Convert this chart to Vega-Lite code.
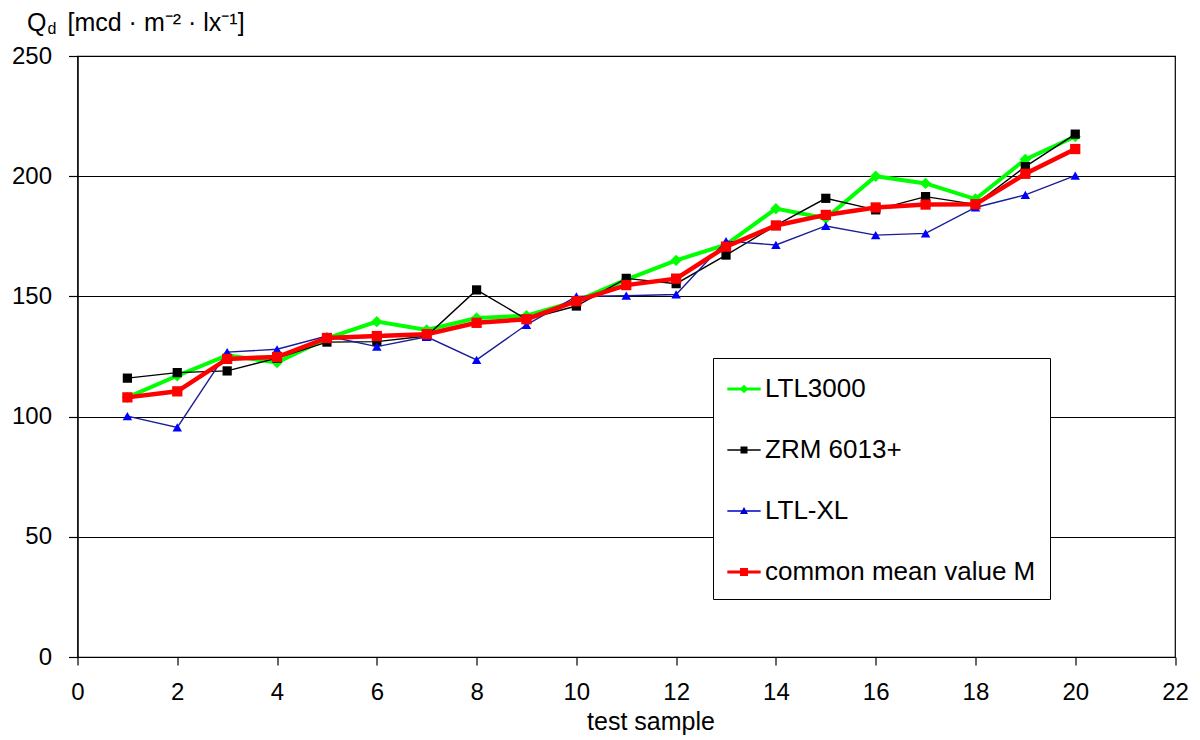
{
  "$schema": "https://vega.github.io/schema/vega-lite/v6.json",
  "width": 1097.5,
  "height": 601,
  "autosize": {"type": "none"},
  "padding": {"left": 77.5, "top": 56, "right": 25, "bottom": 83},
  "background": "white",
  "config": {
    "font": "Liberation Sans",
    "view": {"stroke": "black", "strokeWidth": 1.2},
    "axis": {"labelColor": "black", "titleColor": "black", "domainColor": "black", "tickColor": "black", "titleFontWeight": "normal", "labelFont": "Liberation Sans", "titleFont": "Liberation Sans"}
  },
  "data": {"values": [
    {"sample": 1, "series": "LTL3000", "value": 108},
    {"sample": 2, "series": "LTL3000", "value": 117},
    {"sample": 3, "series": "LTL3000", "value": 125.5},
    {"sample": 4, "series": "LTL3000", "value": 122.5},
    {"sample": 5, "series": "LTL3000", "value": 132.5},
    {"sample": 6, "series": "LTL3000", "value": 139.5},
    {"sample": 7, "series": "LTL3000", "value": 136},
    {"sample": 8, "series": "LTL3000", "value": 141},
    {"sample": 9, "series": "LTL3000", "value": 142},
    {"sample": 10, "series": "LTL3000", "value": 148},
    {"sample": 11, "series": "LTL3000", "value": 157},
    {"sample": 12, "series": "LTL3000", "value": 165},
    {"sample": 13, "series": "LTL3000", "value": 171.5},
    {"sample": 14, "series": "LTL3000", "value": 186.5},
    {"sample": 15, "series": "LTL3000", "value": 182.5},
    {"sample": 16, "series": "LTL3000", "value": 200},
    {"sample": 17, "series": "LTL3000", "value": 197},
    {"sample": 18, "series": "LTL3000", "value": 190.5},
    {"sample": 19, "series": "LTL3000", "value": 207},
    {"sample": 20, "series": "LTL3000", "value": 216.5},
    {"sample": 1, "series": "ZRM 6013+", "value": 116},
    {"sample": 2, "series": "ZRM 6013+", "value": 118.3},
    {"sample": 3, "series": "ZRM 6013+", "value": 119},
    {"sample": 4, "series": "ZRM 6013+", "value": 124.3},
    {"sample": 5, "series": "ZRM 6013+", "value": 131},
    {"sample": 6, "series": "ZRM 6013+", "value": 131.2},
    {"sample": 7, "series": "ZRM 6013+", "value": 133.5},
    {"sample": 8, "series": "ZRM 6013+", "value": 152.7},
    {"sample": 9, "series": "ZRM 6013+", "value": 140.5},
    {"sample": 10, "series": "ZRM 6013+", "value": 146},
    {"sample": 11, "series": "ZRM 6013+", "value": 157.5},
    {"sample": 12, "series": "ZRM 6013+", "value": 155.3},
    {"sample": 13, "series": "ZRM 6013+", "value": 167.2},
    {"sample": 14, "series": "ZRM 6013+", "value": 179.5},
    {"sample": 15, "series": "ZRM 6013+", "value": 190.8},
    {"sample": 16, "series": "ZRM 6013+", "value": 186},
    {"sample": 17, "series": "ZRM 6013+", "value": 191.5},
    {"sample": 18, "series": "ZRM 6013+", "value": 188.3},
    {"sample": 19, "series": "ZRM 6013+", "value": 204},
    {"sample": 20, "series": "ZRM 6013+", "value": 217.5},
    {"sample": 1, "series": "LTL-XL", "value": 100.2},
    {"sample": 2, "series": "LTL-XL", "value": 95.5},
    {"sample": 3, "series": "LTL-XL", "value": 126.8},
    {"sample": 4, "series": "LTL-XL", "value": 128},
    {"sample": 5, "series": "LTL-XL", "value": 133.5},
    {"sample": 6, "series": "LTL-XL", "value": 129.1},
    {"sample": 7, "series": "LTL-XL", "value": 133.2},
    {"sample": 8, "series": "LTL-XL", "value": 123.6},
    {"sample": 9, "series": "LTL-XL", "value": 138.2},
    {"sample": 10, "series": "LTL-XL", "value": 150},
    {"sample": 11, "series": "LTL-XL", "value": 150.3},
    {"sample": 12, "series": "LTL-XL", "value": 150.8},
    {"sample": 13, "series": "LTL-XL", "value": 173},
    {"sample": 14, "series": "LTL-XL", "value": 171.4},
    {"sample": 15, "series": "LTL-XL", "value": 179.3},
    {"sample": 16, "series": "LTL-XL", "value": 175.5},
    {"sample": 17, "series": "LTL-XL", "value": 176.2},
    {"sample": 18, "series": "LTL-XL", "value": 187},
    {"sample": 19, "series": "LTL-XL", "value": 192.2},
    {"sample": 20, "series": "LTL-XL", "value": 200.2},
    {"sample": 1, "series": "common mean value M", "value": 108},
    {"sample": 2, "series": "common mean value M", "value": 110.5},
    {"sample": 3, "series": "common mean value M", "value": 124},
    {"sample": 4, "series": "common mean value M", "value": 124.8},
    {"sample": 5, "series": "common mean value M", "value": 132.7},
    {"sample": 6, "series": "common mean value M", "value": 133.5},
    {"sample": 7, "series": "common mean value M", "value": 134.3},
    {"sample": 8, "series": "common mean value M", "value": 139},
    {"sample": 9, "series": "common mean value M", "value": 140.5},
    {"sample": 10, "series": "common mean value M", "value": 148},
    {"sample": 11, "series": "common mean value M", "value": 154.7},
    {"sample": 12, "series": "common mean value M", "value": 157.4},
    {"sample": 13, "series": "common mean value M", "value": 170.7},
    {"sample": 14, "series": "common mean value M", "value": 179.5},
    {"sample": 15, "series": "common mean value M", "value": 183.9},
    {"sample": 16, "series": "common mean value M", "value": 187},
    {"sample": 17, "series": "common mean value M", "value": 188.2},
    {"sample": 18, "series": "common mean value M", "value": 188.3},
    {"sample": 19, "series": "common mean value M", "value": 201},
    {"sample": 20, "series": "common mean value M", "value": 211.3}
  ]},
  "layer": [
    {
      "encoding": {
        "x": {"field": "sample", "type": "quantitative", "scale": {"domain": [0, 22], "nice": false, "zero": false},
          "axis": {"values": [0, 2, 4, 6, 8, 10, 12, 14, 16, 18, 20, 22], "title": "test sample", "titleX": 573, "titleY": 72, "titleAlign": "center", "titleBaseline": "alphabetic", "titleFontSize": 25, "labelFontSize": 24, "tickSize": 8, "labelPadding": 15, "grid": false, "domainWidth": 1.2, "tickWidth": 1.2, "labelFlush": false, "labelOverlap": false}},
        "y": {"field": "value", "type": "quantitative", "scale": {"domain": [0, 250], "nice": false},
          "axis": {"values": [0, 50, 100, 150, 200, 250], "title": "Q", "titleAngle": 0, "titleX": -51, "titleY": -26, "titleAlign": "left", "titleBaseline": "alphabetic", "titleFontSize": 25, "grid": true, "gridColor": "black", "gridWidth": 1.2, "gridOpacity": 1, "labelFontSize": 24, "tickSize": 9, "labelPadding": 17, "domainWidth": 1.2, "tickWidth": 1.2, "labelOverlap": false}}
      },
      "layer": [
        {"transform": [{"filter": "datum.series === 'LTL3000'"}], "mark": {"type": "line", "color": "#00ff00", "strokeWidth": 4}},
        {"transform": [{"filter": "datum.series === 'LTL3000'"}], "mark": {"type": "point", "filled": true, "shape": "diamond", "size": 130, "color": "#00ff00", "opacity": 1}},
        {"transform": [{"filter": "datum.series === 'ZRM 6013+'"}], "mark": {"type": "line", "color": "#000000", "strokeWidth": 1.4}},
        {"transform": [{"filter": "datum.series === 'ZRM 6013+'"}], "mark": {"type": "point", "filled": true, "shape": "square", "size": 85, "color": "#000000", "opacity": 1}},
        {"transform": [{"filter": "datum.series === 'LTL-XL'"}], "mark": {"type": "line", "color": "#1c1c96", "strokeWidth": 1.4}},
        {"transform": [{"filter": "datum.series === 'LTL-XL'"}], "mark": {"type": "point", "filled": true, "shape": "triangle-up", "size": 90, "color": "#0000ff", "opacity": 1}},
        {"transform": [{"filter": "datum.series === 'common mean value M'"}], "mark": {"type": "line", "color": "#ff0000", "strokeWidth": 4.5}},
        {"transform": [{"filter": "datum.series === 'common mean value M'"}], "mark": {"type": "point", "filled": true, "shape": "square", "size": 105, "color": "#ff0000", "opacity": 1}}
      ]
    },
    {
      "mark": {"type": "point", "filled": true, "opacity": 0},
      "encoding": {
        "x": {"field": "sample", "type": "quantitative", "scale": {"domain": [0, 22], "nice": false, "zero": false},
          "axis": {"orient": "top", "domain": false, "ticks": false, "labels": false, "grid": false, "title": "[mcd · m⁻² · lx⁻¹]", "titleX": -10.5, "titleY": -26, "titleAlign": "left", "titleBaseline": "alphabetic", "titleFontSize": 25}},
        "y": {"field": "value", "type": "quantitative", "scale": {"domain": [0, 250], "nice": false},
          "axis": {"orient": "right", "domain": false, "ticks": false, "labels": false, "grid": false, "title": "d", "titleAngle": 0, "titleX": -1128, "titleY": -22.5, "titleAlign": "left", "titleBaseline": "alphabetic", "titleFontSize": 16}},
        "color": {"field": "series", "type": "nominal",
          "scale": {"domain": ["LTL3000", "ZRM 6013+", "LTL-XL", "common mean value M"], "range": ["#00ff00", "#000000", "#0000cc", "#ff0000"]},
          "legend": {"title": null, "orient": "none", "legendX": 635.5, "legendY": 302, "strokeColor": "black", "fillColor": "white", "padding": 14, "rowPadding": 31, "labelFontSize": 26, "labelColor": "black", "labelOffset": 4, "labelLimit": 500, "symbolSize": 1111, "symbolStrokeWidth": 0, "symbolOpacity": 1,
            "encode": {"symbols": {"update": {"opacity": {"value": 1}, "fillOpacity": {"value": 1}}}}}},
        "shape": {"field": "series", "type": "nominal",
          "scale": {"domain": ["LTL3000", "ZRM 6013+", "LTL-XL", "common mean value M"], "range": [
            "M-1,-0.09H1V0.09H-1Z M0,-0.26L0.26,0L0,0.26L-0.26,0Z",
            "M-1,-0.045H1V0.045H-1Z M-0.21,-0.21H0.21V0.21H-0.21Z",
            "M-1,-0.045H1V0.045H-1Z M0,-0.24L0.24,0.18H-0.24Z",
            "M-1,-0.09H1V0.09H-1Z M-0.24,-0.24H0.24V0.24H-0.24Z"]},
          "legend": {"title": null, "orient": "none", "legendX": 635.5, "legendY": 302, "strokeColor": "black", "fillColor": "white", "padding": 14, "rowPadding": 31, "labelFontSize": 26, "labelColor": "black", "labelOffset": 4, "labelLimit": 500, "symbolSize": 1111, "symbolStrokeWidth": 0, "symbolOpacity": 1,
            "encode": {"symbols": {"update": {"opacity": {"value": 1}, "fillOpacity": {"value": 1}}}}}}
      }
    }
  ],
  "resolve": {"axis": {"x": "independent", "y": "independent"}}
}
